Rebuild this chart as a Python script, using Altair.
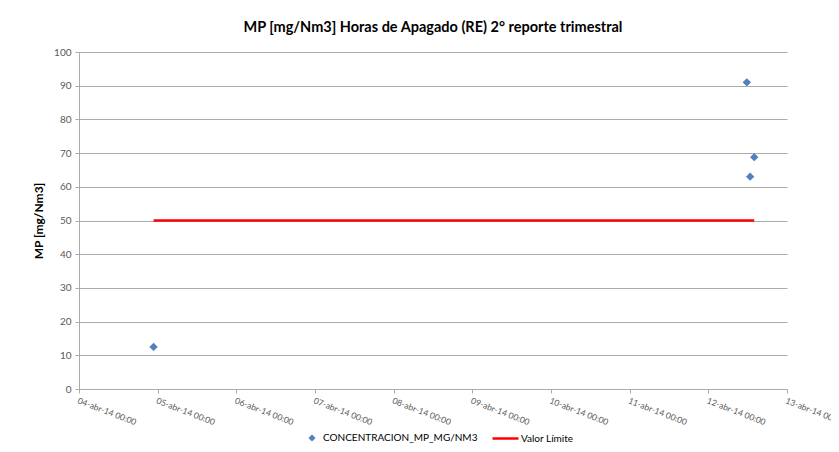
import altair as alt
import pandas as pd

# Data
point_times = ["2014-04-04T22:45:00Z", "2014-04-12T11:45:00Z",
               "2014-04-12T12:45:00Z", "2014-04-12T14:00:00Z"]
point_values = [12.5, 91.0, 63.0, 68.8]
limit_times = ["2014-04-04T22:45:00Z", "2014-04-12T14:00:00Z"]
limit_values = [50, 50]
tick_days = [4, 5, 6, 7, 8, 9, 10, 11, 12, 13]
series_points = "CONCENTRACION_MP_MG/NM3"
series_limit = "Valor Límite"
title_text = "MP [mg/Nm3] Horas de Apagado (RE) 2° reporte trimestral"
y_title = "MP [mg/Nm3]"

FONT = "Lato"
GRAY = "#595959"
GRID = "#ababab"

df_pts = pd.DataFrame({"t": point_times, "v": point_values, "s": [series_points] * len(point_values)})
df_lim = pd.DataFrame({"t": limit_times, "v": limit_values, "s": [series_limit] * len(limit_values)})

x_dom = [alt.DateTime(year=2014, month=4, date=tick_days[0], utc=True),
         alt.DateTime(year=2014, month=4, date=tick_days[-1], utc=True)]
x_vals = [alt.DateTime(year=2014, month=4, date=d, utc=True) for d in tick_days]

x_enc = alt.X("t:T", title=None,
              scale=alt.Scale(type="utc", domain=x_dom, nice=False),
              axis=alt.Axis(values=x_vals,
                            labelExpr="utcFormat(datum.value, '%d-abr-%y %H:%M')",
                            labelAngle=21, labelAlign="left", labelBaseline="top",
                            labelFontSize=8.5, labelColor=GRAY, labelFont=FONT,
                            labelPadding=3, tickSize=4, tickColor=GRID,
                            domainColor=GRID, grid=False, labelOverlap=False,
                            labelFlush=False))
y_enc = alt.Y("v:Q", title=y_title,
              scale=alt.Scale(domain=[0, 100], nice=False),
              axis=alt.Axis(values=list(range(0, 101, 10)), labelFontSize=10,
                            labelColor=GRAY, labelFont=FONT, tickSize=4,
                            tickColor=GRID, domainColor=GRID, gridColor=GRID,
                            titleFont=FONT, titleFontSize=12, titleFontWeight="bold",
                            titleColor="#000000", titlePadding=8, labelPadding=4))

limit = alt.Chart(df_lim).mark_line(strokeWidth=2.5).encode(
    x=x_enc, y=y_enc,
    color=alt.Color("s:N", scale=alt.Scale(domain=[series_limit], range=["#FF0000"]),
                    legend=alt.Legend(orient="none", legendX=412, legendY=372, title=None,
                                      symbolType="stroke", symbolSize=676,
                                      symbolStrokeWidth=2.5, labelFontSize=10,
                                      labelFont=FONT, labelColor="#000000",
                                      labelOffset=1)),
)

points = alt.Chart(df_pts).mark_point(filled=True, size=70, opacity=1,
                                      color="#4F81BD").encode(
    x=x_enc, y=y_enc,
    shape=alt.Shape("s:N", scale=alt.Scale(domain=[series_points], range=["diamond"]),
                    legend=alt.Legend(orient="none", legendX=228, legendY=381, title=None,
                                      symbolFillColor="#4F81BD", symbolStrokeColor="#4F81BD",
                                      symbolSize=50, labelFontSize=10, labelFont=FONT,
                                      labelColor="#000000", labelOffset=6)),
)

chart = alt.layer(limit, points).resolve_scale(color="independent", shape="independent").properties(
    width=708, height=337,
    title=alt.TitleParams(title_text, font=FONT, fontSize=14.5, fontWeight="bold",
                          color="#000000", anchor="middle", offset=12),
    autosize=alt.AutoSizeParams(type="none"),
    padding={"left": 71, "top": 44, "right": 44, "bottom": 55},
    background="white",
).configure_view(stroke=None)

chart.save("out.html", embed_options={"renderer": "svg", "actions": False})
